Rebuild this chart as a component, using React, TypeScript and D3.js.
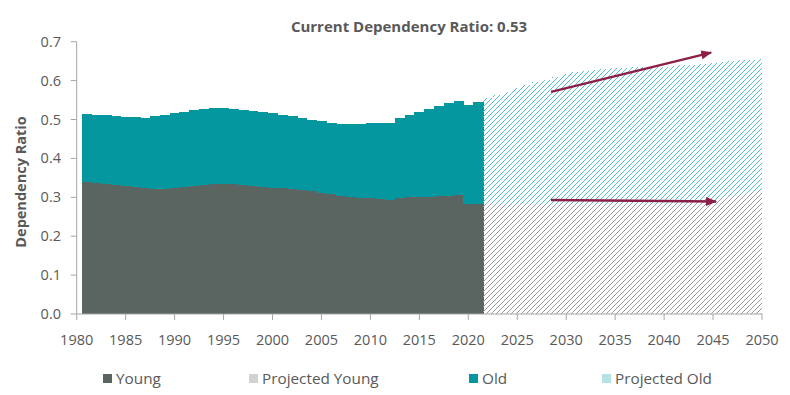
// @ts-nocheck
import React from "react";
import * as d3 from "d3";

// historical years 1981-2021
const histYears = d3.range(1981, 2022);
const histYoung = [
  0.340, 0.338, 0.336, 0.333, 0.330, 0.327, 0.324, 0.322, 0.323, 0.326,
  0.328, 0.331, 0.333, 0.335, 0.335, 0.334, 0.332, 0.330, 0.327, 0.326,
  0.324, 0.322, 0.319, 0.316, 0.312, 0.309, 0.305, 0.302, 0.300, 0.298,
  0.296, 0.293, 0.300, 0.302, 0.302, 0.303, 0.304, 0.305, 0.306, 0.284,
  0.284,
];
const histOld = [
  0.173, 0.174, 0.175, 0.176, 0.177, 0.179, 0.181, 0.186, 0.189, 0.190,
  0.191, 0.193, 0.194, 0.195, 0.195, 0.194, 0.193, 0.192, 0.191, 0.190,
  0.188, 0.187, 0.186, 0.184, 0.184, 0.183, 0.183, 0.186, 0.189, 0.192,
  0.194, 0.199, 0.205, 0.210, 0.218, 0.224, 0.231, 0.237, 0.241, 0.253,
  0.262,
];

// projected years 2022-2050
const projYears = d3.range(2022, 2051);
const projYoung = [
  0.285, 0.285, 0.285, 0.285, 0.285, 0.285, 0.285, 0.285, 0.285, 0.285,
  0.285, 0.285, 0.285, 0.285, 0.285, 0.285, 0.285, 0.285, 0.285, 0.285,
  0.285, 0.286, 0.288, 0.293, 0.298, 0.304, 0.309, 0.315, 0.320,
];
const projOld = [
  0.270, 0.278, 0.286, 0.295, 0.303, 0.311, 0.317, 0.324, 0.331, 0.336,
  0.340, 0.343, 0.345, 0.347, 0.348, 0.349, 0.350, 0.350, 0.351, 0.352,
  0.354, 0.355, 0.355, 0.352, 0.349, 0.346, 0.343, 0.339, 0.336,
];

const xTicks = d3.range(1980, 2051, 5);
const yTicks = [0, 0.1, 0.2, 0.3, 0.4, 0.5, 0.6, 0.7];

// annotation arrows [x1, y1, x2, y2] in data units
const arrows = [
  [2028.45, 0.571, 2044.8, 0.672],
  [2028.45, 0.293, 2045.3, 0.289],
];

const legendItems = [
  { label: "Young", fill: "#5a6561", x: 103 },
  { label: "Projected Young", fill: "#d2d2d2", x: 249 },
  { label: "Old", fill: "#05979f", x: 469 },
  { label: "Projected Old", fill: "#b4e2e5", x: 602 },
];

const YOUNG = "#5a6561";
const OLD = "#05979f";
const TXT = "#595959";
const AXIS = "#a6a6a6";
const FONT = "'Open Sans', 'Noto Sans', sans-serif";

export default function App() {
  const width = 790;
  const height = 395;

  const x = d3.scaleLinear().domain([1980, 2050]).range([76.7, 762]);
  const y = d3.scaleLinear().domain([0, 0.7]).range([314, 41.7]);

  const bar = (yr, lo, hi, fill, key) => (
    <rect
      key={key}
      x={x(yr - 0.5)}
      width={x(yr + 0.5) - x(yr - 0.5) + 0.6}
      y={y(hi)}
      height={y(lo) - y(hi) + 0.4}
      fill={fill}
      shapeRendering="crispEdges"
    />
  );

  return (
    <svg
      width={width}
      height={height}
      style={{ position: "absolute", left: 0, top: 0, background: "#fff" }}
      fontFamily={FONT}
    >
      <defs>
        <pattern id="hatchGrey" patternUnits="userSpaceOnUse" width="5" height="5">
          <path d="M-1,1 L1,-1 M0,5 L5,0 M4,6 L6,4" stroke="#9a9a9a" strokeWidth="1" />
        </pattern>
        <pattern id="hatchTeal" patternUnits="userSpaceOnUse" width="5" height="5">
          <path d="M-1,1 L1,-1 M0,5 L5,0 M4,6 L6,4" stroke="#55c0c7" strokeWidth="1" />
        </pattern>
        <clipPath id="plot">
          <rect x={x(1980)} y={0} width={x(2050) - x(1980)} height={y(0)} />
        </clipPath>
        <marker
          id="arrowHead"
          markerUnits="userSpaceOnUse"
          markerWidth="12"
          markerHeight="10"
          refX="10"
          refY="5"
          orient="auto"
        >
          <path d="M0,0.5 L11,5 L0,9.5 Z" fill="#8c1f47" />
        </marker>
      </defs>

      {/* title */}
      <text x={409} y={32} textAnchor="middle" fontSize={15} fontWeight={700} fill={TXT}>
        Current Dependency Ratio: 0.53
      </text>

      {/* bars */}
      <g clipPath="url(#plot)">
        {histYears.map((yr, i) => bar(yr, 0, histYoung[i], YOUNG, "hy" + yr))}
        {histYears.map((yr, i) =>
          bar(yr, histYoung[i], histYoung[i] + histOld[i], OLD, "ho" + yr)
        )}
        {projYears.map((yr, i) => bar(yr, 0, projYoung[i], "url(#hatchGrey)", "py" + yr))}
        {projYears.map((yr, i) =>
          bar(yr, projYoung[i], projYoung[i] + projOld[i], "url(#hatchTeal)", "po" + yr)
        )}
      </g>

      {/* axes */}
      <line x1={x(1980)} x2={x(1980)} y1={y(0.7)} y2={y(0)} stroke={AXIS} />
      <line x1={x(1980)} x2={x(2050)} y1={y(0)} y2={y(0)} stroke={AXIS} />
      {yTicks.map((t) => (
        <g key={"y" + t}>
          <line x1={x(1980) - 6} x2={x(1980)} y1={y(t)} y2={y(t)} stroke={AXIS} />
          <text x={61} y={y(t)} dy="0.35em" textAnchor="end" fontSize={14.5} fill={TXT}>
            {d3.format(".1f")(t)}
          </text>
        </g>
      ))}
      {xTicks.map((t) => (
        <g key={"x" + t}>
          <line x1={x(t)} x2={x(t)} y1={y(0)} y2={y(0) + 6} stroke={AXIS} />
          <text x={x(t)} y={345} textAnchor="middle" fontSize={14.5} fill={TXT}>
            {t}
          </text>
        </g>
      ))}

      <text
        transform={`translate(26, 182) rotate(-90)`}
        textAnchor="middle"
        fontSize={14.5}
        fontWeight={700}
        fill={TXT}
      >
        Dependency Ratio
      </text>

      {/* arrows */}
      {arrows.map((a, i) => (
        <line
          key={"a" + i}
          x1={x(a[0])}
          y1={y(a[1])}
          x2={x(a[2])}
          y2={y(a[3])}
          stroke="#8c1f47"
          strokeWidth={2.5}
          markerEnd="url(#arrowHead)"
        />
      ))}

      {/* legend */}
      {legendItems.map((d) => (
        <g key={d.label}>
          <rect x={d.x} y={374} width={9} height={9} fill={d.fill} />
          <text x={d.x + 13} y={384} fontSize={15.3} fill={TXT}>
            {d.label}
          </text>
        </g>
      ))}
    </svg>
  );
}
